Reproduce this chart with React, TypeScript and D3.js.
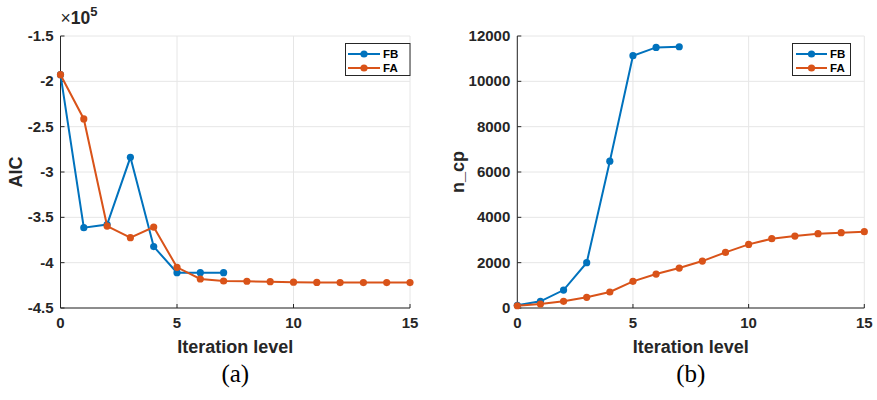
import React from "react";
import * as d3 from "d3";

const iterFB = [0, 1, 2, 3, 4, 5, 6, 7];
const iterFA = [0, 1, 2, 3, 4, 5, 6, 7, 8, 9, 10, 11, 12, 13, 14, 15];
const aicFB = [-1.927, -3.614, -3.58, -2.838, -3.823, -4.11, -4.11, -4.11];
const aicFA = [-1.927, -2.415, -3.596, -3.724, -3.607, -4.051, -4.18, -4.202, -4.205, -4.21, -4.215, -4.218, -4.22, -4.22, -4.22, -4.22];
const ncpFB = [120, 295, 793, 2000, 6476, 11130, 11497, 11526];
const ncpFA = [100, 176, 295, 471, 705, 1176, 1498, 1762, 2070, 2454, 2806, 3057, 3172, 3277, 3322, 3366];
const xTicks = [0, 5, 10, 15];
const aicTicks = [-1.5, -2, -2.5, -3, -3.5, -4, -4.5];
const ncpTicks = [0, 2000, 4000, 6000, 8000, 10000, 12000];
const seriesNames = ["FB", "FA"];
const colors = ["#0072BD", "#D95319"];

const FONT = "'Liberation Sans', Arial, Helvetica, sans-serif";

type PanelProps = {
  left: number;
  right: number;
  yDomain: [number, number];
  yTicks: number[];
  yFmt: (v: number) => string;
  series: { x: number[]; y: number[] }[];
  yLabel: string;
  yLabelX: number;
  caption: string;
  legend: { x0: number; x1: number; lineX0: number; lineX1: number; textX: number };
  exponent?: boolean;
};

function Panel(p: PanelProps) {
  const top = 36;
  const bottom = 308;
  const x = d3.scaleLinear().domain([0, 15]).range([p.left, p.right]);
  const y = d3.scaleLinear().domain(p.yDomain).range([bottom, top]);
  const line = d3
    .line<[number, number]>()
    .x((d) => x(d[0]))
    .y((d) => y(d[1]));
  const cx = (p.left + p.right) / 2;
  return (
    <g>
      {xTicks.map((t) => (
        <line key={"gx" + t} x1={x(t)} x2={x(t)} y1={top} y2={bottom} stroke="#e6e6e6" strokeWidth={1} />
      ))}
      {p.yTicks.map((t) => (
        <line key={"gy" + t} x1={p.left} x2={p.right} y1={y(t)} y2={y(t)} stroke="#e6e6e6" strokeWidth={1} />
      ))}
      <line x1={p.left} x2={p.left} y1={top} y2={bottom} stroke="#262626" strokeWidth={1} />
      <line x1={p.left} x2={p.right} y1={bottom} y2={bottom} stroke="#262626" strokeWidth={1} />
      {xTicks.map((t) => (
        <g key={"tx" + t}>
          <line x1={x(t)} x2={x(t)} y1={bottom} y2={bottom - 4} stroke="#262626" />
          <text x={x(t)} y={328} textAnchor="middle" fontFamily={FONT} fontWeight="bold" fontSize={15} fill="#262626">
            {t}
          </text>
        </g>
      ))}
      {p.yTicks.map((t) => (
        <g key={"ty" + t}>
          <line x1={p.left} x2={p.left + 4} y1={y(t)} y2={y(t)} stroke="#262626" />
          <text x={p.left - 7} y={y(t) + 5} textAnchor="end" fontFamily={FONT} fontWeight="bold" fontSize={15} fill="#262626">
            {p.yFmt(t)}
          </text>
        </g>
      ))}
      {p.exponent && (
        <text x={p.left} y={23.5} fontFamily={FONT} fontWeight="bold" fontSize={17.5} fill="#262626">
          <tspan fontWeight="normal">×</tspan>10
          <tspan dy={-8} fontSize={13}>5</tspan>
        </text>
      )}
      {p.series.map((s, i) => {
        const pts: [number, number][] = s.x.map((xv, j) => [xv, s.y[j]]);
        return (
          <g key={"s" + i}>
            <path d={line(pts) || ""} fill="none" stroke={colors[i]} strokeWidth={2} />
            {pts.map((d, j) => (
              <circle key={j} cx={x(d[0])} cy={y(d[1])} r={3.6} fill={colors[i]} />
            ))}
          </g>
        );
      })}
      <text x={cx} y={353} textAnchor="middle" fontFamily={FONT} fontWeight="bold" fontSize={18} fill="#262626">
        Iteration level
      </text>
      <text
        transform={`translate(${p.yLabelX},172) rotate(-90)`}
        textAnchor="middle"
        fontFamily={FONT}
        fontWeight="bold"
        fontSize={18}
        fill="#262626"
      >
        {p.yLabel}
      </text>
      <text x={cx} y={382} textAnchor="middle" fontFamily="'Liberation Serif', 'Times New Roman', serif" fontSize={25} fill="#000">
        {p.caption}
      </text>
      <rect x={p.legend.x0} y={43.5} width={p.legend.x1 - p.legend.x0} height={32} fill="#fff" stroke="#262626" strokeWidth={1} />
      {seriesNames.map((n, i) => {
        const ly = 54 + i * 14;
        const mx = (p.legend.lineX0 + p.legend.lineX1) / 2;
        return (
          <g key={"lg" + n}>
            <line x1={p.legend.lineX0} x2={p.legend.lineX1} y1={ly} y2={ly} stroke={colors[i]} strokeWidth={2} />
            <circle cx={mx} cy={ly} r={3.6} fill={colors[i]} />
            <text x={p.legend.textX} y={ly + 4.2} fontFamily={FONT} fontWeight="bold" fontSize={11.5} fill="#000">
              {n}
            </text>
          </g>
        );
      })}
    </g>
  );
}

export default function App() {
  return (
    <svg width={877} height={400} style={{ position: "absolute", left: 0, top: 0, background: "#fff" }}>
      <rect width={877} height={400} fill="#fff" />
      <Panel
        left={60.5}
        right={410}
        yDomain={[-4.5, -1.5]}
        yTicks={aicTicks}
        yFmt={(v) => String(v)}
        series={[
          { x: iterFB, y: aicFB },
          { x: iterFA, y: aicFA },
        ]}
        yLabel="AIC"
        yLabelX={22}
        caption="(a)"
        legend={{ x0: 345.5, x1: 410, lineX0: 348, lineX1: 380, textX: 383 }}
        exponent
      />
      <Panel
        left={517.3}
        right={864.3}
        yDomain={[0, 12000]}
        yTicks={ncpTicks}
        yFmt={(v) => String(v)}
        series={[
          { x: iterFB, y: ncpFB },
          { x: iterFA, y: ncpFA },
        ]}
        yLabel="n_cp"
        yLabelX={464}
        caption="(b)"
        legend={{ x0: 792.5, x1: 850.5, lineX0: 796, lineX1: 827, textX: 830 }}
      />
    </svg>
  );
}
